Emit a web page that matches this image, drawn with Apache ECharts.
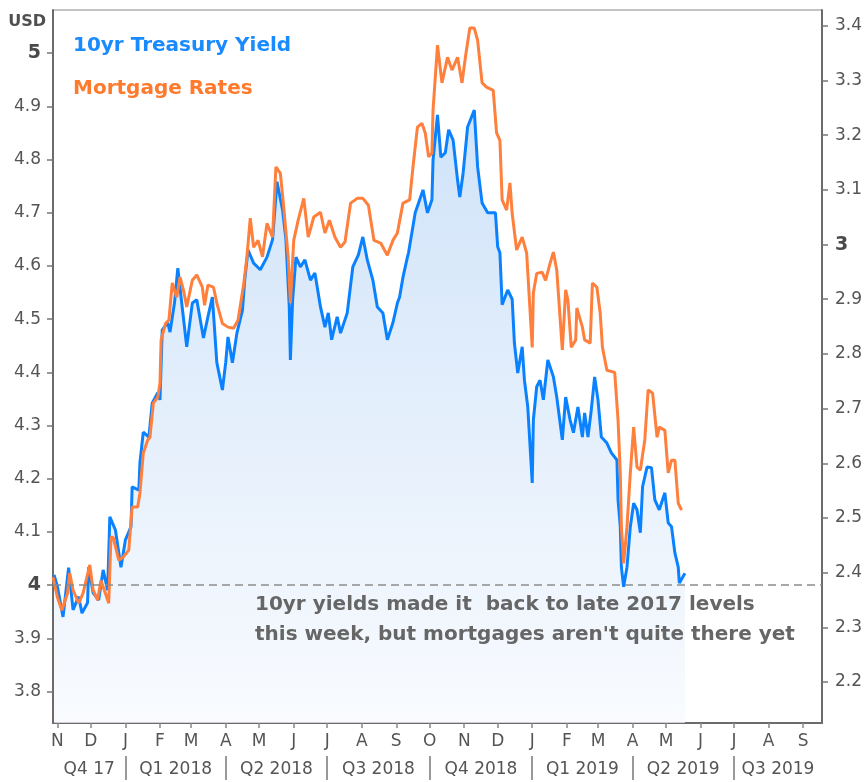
<!DOCTYPE html>
<html><head><meta charset="utf-8">
<script src="https://cdn.jsdelivr.net/npm/echarts@6/dist/echarts.min.js"></script>
<style>html,body{margin:0;padding:0;background:#fff}#c{width:868px;height:782px}</style>
</head><body><div id="c"></div>
<script>
// ---------- data ----------
const blueName = '10yr Treasury Yield';
const orangeName = 'Mortgage Rates';

const blueDates = ['2017-10-29','2017-11-01','2017-11-06','2017-11-11','2017-11-15','2017-11-20','2017-11-23','2017-11-28','2017-11-29','2017-12-03',
'2017-12-08','2017-12-12','2017-12-16','2017-12-18','2017-12-23','2017-12-28','2018-01-01','2018-01-06','2018-01-07','2018-01-13',
'2018-01-14','2018-01-17','2018-01-22','2018-01-25','2018-01-30','2018-02-01','2018-02-03','2018-02-08','2018-02-10','2018-02-14',
'2018-02-17','2018-02-21','2018-02-25','2018-03-02','2018-03-06','2018-03-12','2018-03-16','2018-03-20','2018-03-24','2018-03-29',
'2018-04-01','2018-04-03','2018-04-07','2018-04-11','2018-04-16','2018-04-18','2018-04-21','2018-04-26','2018-05-02','2018-05-08',
'2018-05-13','2018-05-17','2018-05-22','2018-05-25','2018-05-28','2018-05-29','2018-05-31','2018-06-03','2018-06-07','2018-06-11',
'2018-06-16','2018-06-20','2018-06-25','2018-06-29','2018-07-02','2018-07-05','2018-07-10','2018-07-13','2018-07-19','2018-07-24',
'2018-07-29','2018-08-02','2018-08-06','2018-08-11','2018-08-15','2018-08-20','2018-08-24','2018-08-29','2018-09-02','2018-09-04',
'2018-09-07','2018-09-11','2018-09-12','2018-09-18','2018-09-22','2018-09-25','2018-09-29','2018-10-03','2018-10-04','2018-10-08',
'2018-10-11','2018-10-15','2018-10-18','2018-10-22','2018-10-26','2018-10-28','2018-10-31','2018-11-04','2018-11-10','2018-11-13',
'2018-11-17','2018-11-22','2018-11-29','2018-12-01','2018-12-03','2018-12-05','2018-12-10','2018-12-14','2018-12-16','2018-12-19',
'2018-12-23','2018-12-25','2018-12-28','2019-01-01','2019-01-02','2019-01-05','2019-01-08','2019-01-11','2019-01-15','2019-01-20',
'2019-01-23','2019-01-28','2019-01-31','2019-02-04','2019-02-07','2019-02-11','2019-02-15','2019-02-17','2019-02-20','2019-02-23',
'2019-02-26','2019-03-01','2019-03-04','2019-03-09','2019-03-13','2019-03-18','2019-03-19','2019-03-21','2019-03-22','2019-03-24',
'2019-03-27','2019-03-30','2019-04-02','2019-04-05','2019-04-08','2019-04-10','2019-04-14','2019-04-18','2019-04-21','2019-04-25',
'2019-04-30','2019-05-03','2019-05-06','2019-05-09','2019-05-12','2019-05-13','2019-05-18'];
const blueValues = [2.396,2.374,2.319,2.409,2.332,2.356,2.326,2.345,2.410,2.363,
2.350,2.405,2.368,2.502,2.478,2.410,2.460,2.484,2.557,2.551,
2.601,2.657,2.648,2.710,2.729,2.716,2.844,2.857,2.840,2.893,
2.957,2.884,2.813,2.893,2.899,2.829,2.868,2.904,2.784,2.734,
2.785,2.831,2.784,2.838,2.880,2.935,2.990,2.966,2.954,2.977,
3.009,3.115,3.063,3.009,2.886,2.789,2.899,2.977,2.959,2.972,
2.935,2.948,2.886,2.849,2.875,2.826,2.868,2.838,2.875,2.959,
2.981,3.014,2.972,2.935,2.886,2.875,2.826,2.857,2.893,2.904,
2.940,2.977,2.985,3.058,3.082,3.100,3.058,3.082,3.155,3.237,
3.160,3.168,3.210,3.191,3.118,3.087,3.131,3.215,3.246,3.142,
3.076,3.058,3.058,2.996,2.985,2.890,2.917,2.900,2.820,2.765,
2.813,2.752,2.703,2.564,2.679,2.740,2.752,2.716,2.789,2.758,
2.721,2.643,2.721,2.679,2.656,2.703,2.648,2.692,2.648,2.698,
2.758,2.716,2.648,2.637,2.619,2.606,2.533,2.484,2.410,2.374,
2.410,2.484,2.527,2.515,2.473,2.557,2.593,2.592,2.533,2.515,
2.546,2.491,2.484,2.436,2.410,2.381,2.399];

const orangeDates = ['2017-10-28','2017-11-01','2017-11-05','2017-11-10','2017-11-12','2017-11-15','2017-11-20','2017-11-24','2017-11-30','2017-12-03',
'2017-12-07','2017-12-10','2017-12-14','2017-12-17','2017-12-19','2017-12-21','2017-12-26','2017-12-30','2018-01-04','2018-01-07',
'2018-01-12','2018-01-14','2018-01-17','2018-01-21','2018-01-23','2018-01-26','2018-01-30','2018-02-01','2018-02-02','2018-02-06',
'2018-02-09','2018-02-12','2018-02-16','2018-02-19','2018-02-22','2018-02-25','2018-03-02','2018-03-06','2018-03-11','2018-03-13',
'2018-03-16','2018-03-21','2018-03-24','2018-03-29','2018-04-03','2018-04-08','2018-04-12','2018-04-17','2018-04-20','2018-04-23',
'2018-04-26','2018-04-30','2018-05-04','2018-05-08','2018-05-13','2018-05-16','2018-05-20','2018-05-23','2018-05-27','2018-05-29',
'2018-06-01','2018-06-05','2018-06-10','2018-06-14','2018-06-19','2018-06-25','2018-06-29','2018-07-03','2018-07-08','2018-07-13',
'2018-07-17','2018-07-22','2018-07-28','2018-08-02','2018-08-07','2018-08-12','2018-08-18','2018-08-24','2018-08-29','2018-09-02',
'2018-09-07','2018-09-13','2018-09-16','2018-09-20','2018-09-24','2018-09-27','2018-09-30','2018-10-03','2018-10-04','2018-10-08',
'2018-10-12','2018-10-17','2018-10-21','2018-10-26','2018-10-30','2018-11-02','2018-11-06','2018-11-10','2018-11-13','2018-11-17',
'2018-11-21','2018-11-27','2018-11-30','2018-12-03','2018-12-05','2018-12-09','2018-12-12','2018-12-14','2018-12-18','2018-12-23',
'2018-12-27','2019-01-01','2019-01-02','2019-01-05','2019-01-10','2019-01-13','2019-01-17','2019-01-20','2019-01-23','2019-01-28',
'2019-01-31','2019-02-02','2019-02-05','2019-02-09','2019-02-10','2019-02-15','2019-02-17','2019-02-22','2019-02-24','2019-02-28',
'2019-03-03','2019-03-05','2019-03-09','2019-03-16','2019-03-19','2019-03-21','2019-03-22','2019-03-24','2019-03-27','2019-03-30',
'2019-04-02','2019-04-05','2019-04-08','2019-04-12','2019-04-15','2019-04-19','2019-04-23','2019-04-25','2019-04-30','2019-05-03',
'2019-05-06','2019-05-09','2019-05-12','2019-05-15'];
const orangeValues = [4.015,3.977,3.953,3.985,4.023,3.991,3.966,3.985,4.038,3.991,
3.972,4.009,3.985,3.966,4.090,4.090,4.047,4.053,4.066,4.147,
4.147,4.173,4.248,4.273,4.278,4.342,4.353,4.380,4.461,4.492,
4.498,4.568,4.541,4.579,4.555,4.523,4.573,4.583,4.560,4.526,
4.564,4.560,4.530,4.492,4.485,4.483,4.498,4.564,4.617,4.690,
4.635,4.648,4.617,4.680,4.654,4.786,4.774,4.711,4.617,4.530,
4.648,4.686,4.727,4.654,4.692,4.701,4.662,4.686,4.654,4.635,
4.645,4.718,4.727,4.727,4.714,4.648,4.643,4.620,4.648,4.662,
4.718,4.724,4.786,4.861,4.868,4.850,4.805,4.812,4.893,5.015,
4.944,4.992,4.968,4.992,4.944,4.992,5.047,5.047,5.024,4.944,
4.936,4.930,4.850,4.836,4.724,4.705,4.756,4.699,4.630,4.654,
4.624,4.447,4.549,4.586,4.588,4.573,4.605,4.626,4.592,4.442,
4.555,4.536,4.447,4.461,4.521,4.485,4.461,4.455,4.568,4.560,
4.511,4.447,4.404,4.400,4.310,4.211,4.109,4.041,4.109,4.211,
4.297,4.222,4.216,4.273,4.367,4.361,4.278,4.297,4.291,4.211,
4.235,4.235,4.154,4.141];

const monthTickDates = ['2017-11-01','2017-12-01','2018-01-01','2018-02-01','2018-03-01','2018-04-01','2018-05-01','2018-06-01','2018-07-01','2018-08-01','2018-09-01','2018-10-01',
'2018-11-01','2018-12-01','2019-01-01','2019-02-01','2019-03-01','2019-04-01','2019-05-01','2019-06-01','2019-07-01','2019-08-01','2019-09-01'];
const monthTickLabels = ['N','D','J','F','M','A','M','J','J','A','S','O','N','D','J','F','M','A','M','J','J','A','S'];
const quarterStartDates = ['2018-01-01','2018-04-01','2018-07-01','2018-10-01','2019-01-01','2019-04-01','2019-07-01'];
const quarterLabels = ['Q4 17','Q1 2018','Q2 2018','Q3 2018','Q4 2018','Q1 2019','Q2 2019','Q3 2019'];
const leftTicks = [3.8,3.9,4.0,4.1,4.2,4.3,4.4,4.5,4.6,4.7,4.8,4.9,5.0];
const rightTicks = [2.2,2.3,2.4,2.5,2.6,2.7,2.8,2.9,3.0,3.1,3.2,3.3,3.4];
const xStart = '2017-10-28', xEnd = '2019-09-18';
const leftMin = 3.741, leftMax = 5.081;
const rightMin = 2.125, rightMax = 3.429;
const refLevel = 4.0;
const unitLabel = 'USD';
const noteText = "10yr yields made it  back to late 2017 levels\nthis week, but mortgages aren't quite there yet";

// ---------- build ----------
function ts(s){const p=s.split('-').map(Number);return new Date(p[0],p[1]-1,p[2]).getTime();}
const monthTs = monthTickDates.map(ts);
const qStartTs = quarterStartDates.map(ts);
const bounds = [ts(xStart)].concat(qStartTs, [ts(xEnd)]);
const qMidTs = quarterLabels.map((_, i) => (bounds[i] + bounds[i+1]) / 2);
function nearestIdx(arr, v){let b=0,d=Infinity;arr.forEach((t,i)=>{const e=Math.abs(t-v);if(e<d){d=e;b=i;}});return b;}

const FONT = '"DejaVu Sans", Verdana, sans-serif';
const LABEL_COLOR = '#555555';
const AXIS_COLOR = '#6b6b6b';

function yFmt(v){
  const r = Math.round(v*10)/10;
  if (Math.abs(r - Math.round(r)) < 1e-9) return '{b|' + Math.round(r) + '}';
  return r.toFixed(1);
}

const chart = echarts.init(document.getElementById('c'), null, {renderer:'canvas'});
chart.setOption({
  animation: false,
  backgroundColor: '#fff',
  textStyle: {fontFamily: FONT},
  grid: {left: 53, right: 46, top: 10, bottom: 59, show: true, borderColor: '#888', borderWidth: 1, backgroundColor: 'transparent'},
  legend: {
    orient: 'vertical', left: 63, top: 31, icon: 'none', itemWidth: 0, itemHeight: 20, itemGap: 23,
    selectedMode: false,
    textStyle: {fontFamily: FONT, fontSize: 20, fontWeight: 'bold'},
    data: [
      {name: blueName, textStyle: {color: '#1a8aff'}},
      {name: orangeName, textStyle: {color: '#ff7a2c'}}
    ]
  },
  xAxis: [
    {
      type: 'value', min: ts(xStart), max: ts(xEnd), position: 'bottom',
      axisLine: {show: true, lineStyle: {color: AXIS_COLOR, width: 2}},
      axisTick: {show: true, customValues: monthTs, length: 5, lineStyle: {color: '#888', width: 1.5}},
      axisLabel: {customValues: monthTs, margin: 10, color: LABEL_COLOR, fontSize: 17, fontFamily: FONT, hideOverlap: false,
        formatter: v => monthTickLabels[nearestIdx(monthTs, v)]},
      splitLine: {show: false}
    },
    {
      type: 'value', min: ts(xStart), max: ts(xEnd), position: 'bottom', offset: 33,
      axisLine: {show: false},
      axisTick: {show: true, customValues: qStartTs, length: 24, lineStyle: {color: '#777', width: 1.5}},
      axisLabel: {customValues: qMidTs, margin: 5, color: LABEL_COLOR, fontSize: 17, fontFamily: FONT, hideOverlap: false,
        formatter: v => quarterLabels[nearestIdx(qMidTs, v)]},
      splitLine: {show: false}
    }
  ],
  yAxis: [
    {
      type: 'value', position: 'left', min: leftMin, max: leftMax,
      axisLine: {show: true, lineStyle: {color: AXIS_COLOR, width: 2}},
      axisTick: {show: true, customValues: leftTicks, length: 6, lineStyle: {color: '#777', width: 1.5}},
      axisLabel: {customValues: leftTicks, margin: 12, color: LABEL_COLOR, fontSize: 17, fontFamily: FONT, formatter: yFmt,
        rich: {b: {fontWeight: 'bold', fontSize: 19, color: '#4a4a4a', fontFamily: FONT}}},
      splitLine: {show: false}
    },
    {
      type: 'value', position: 'right', min: rightMin, max: rightMax,
      axisLine: {show: true, lineStyle: {color: AXIS_COLOR, width: 2}},
      axisTick: {show: true, customValues: rightTicks, length: 6, lineStyle: {color: '#777', width: 1.5}},
      axisLabel: {customValues: rightTicks, margin: 13, color: LABEL_COLOR, fontSize: 17, fontFamily: FONT, formatter: yFmt,
        rich: {b: {fontWeight: 'bold', fontSize: 19, color: '#4a4a4a', fontFamily: FONT}}},
      splitLine: {show: false}
    }
  ],
  series: [
    {
      name: blueName, type: 'line', xAxisIndex: 0, yAxisIndex: 1,
      data: blueDates.map((d, i) => [ts(d), blueValues[i]]),
      showSymbol: false, symbol: 'none', z: 2,
      lineStyle: {color: '#0a82ff', width: 3},
      itemStyle: {color: '#0a82ff'},
      areaStyle: {origin: 'start', color: new echarts.graphic.LinearGradient(0, 0, 0, 1, [
        {offset: 0, color: '#bbd7f6'}, {offset: 1, color: '#f6f9fe'}])}
    },
    {
      name: orangeName, type: 'line', xAxisIndex: 0, yAxisIndex: 0,
      data: orangeDates.map((d, i) => [ts(d), orangeValues[i]]),
      showSymbol: false, symbol: 'none', z: 3,
      lineStyle: {color: '#ff7f3c', width: 3},
      itemStyle: {color: '#ff7f3c'},
      markLine: {silent: true, symbol: 'none', label: {show: false},
        lineStyle: {color: '#8c8c8c', type: [8, 5], width: 1.5},
        data: [{yAxis: refLevel}]}
    }
  ],
  graphic: [
    {type: 'text', z: 100, right: 868 - 46, top: 14, style: {text: unitLabel, font: 'bold 16px ' + FONT, fill: '#4f4f4f'}},
    {type: 'text', z: 100, left: 255, top: 590, style: {text: noteText, font: 'bold 20px ' + FONT, lineHeight: 30, fill: '#666666'}}
  ]
});
</script></body></html>
